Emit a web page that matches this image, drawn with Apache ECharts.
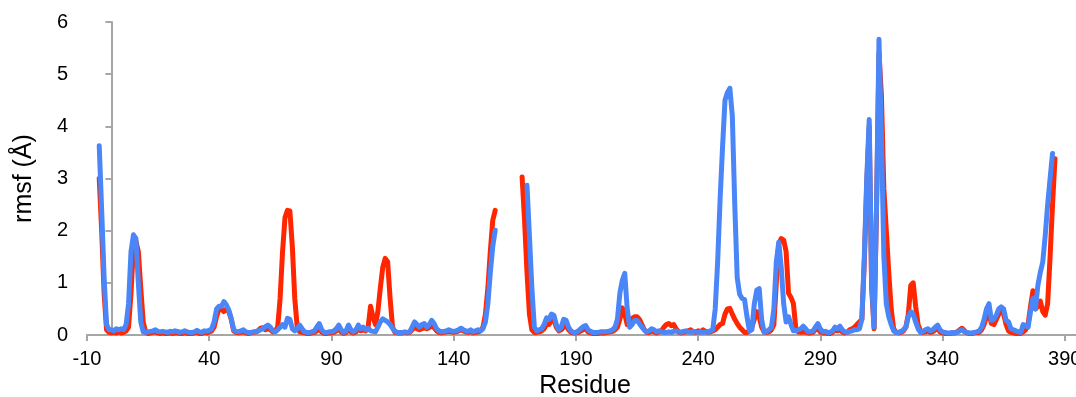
<!DOCTYPE html>
<html>
<head>
<meta charset="utf-8">
<script src="https://cdn.jsdelivr.net/npm/echarts@6/dist/echarts.min.js"></script>
<style>
  html, body { margin: 0; padding: 0; background: #fff; }
  #chart { width: 1076px; height: 397px; }
</style>
</head>
<body>
<div id="chart"></div>
<script>
// residue numbering: first value belongs to residue -5, one value per residue
const firstResidue = -5;

// red trace, residues -5 .. 386 (null = no data)
const redRmsf = [
  3.0, 2.0, 0.8, 0.1, 0.05, 0.04, 0.05, 0.04, 0.06, 0.04,      // -5
  0.05, 0.08, 0.15, 0.8, 1.7, 1.8, 1.6, 0.9, 0.25, 0.05,       // 5
  0.03, 0.04, 0.05, 0.06, 0.04, 0.03, 0.04, 0.03, 0.03, 0.04,  // 15
  0.03, 0.04, 0.04, 0.03, 0.03, 0.05, 0.03, 0.03, 0.03, 0.04,  // 25
  0.05, 0.03, 0.03, 0.05, 0.04, 0.06, 0.08, 0.15, 0.35, 0.5,   // 35
  0.5, 0.45, 0.5, 0.45, 0.3, 0.08, 0.05, 0.04, 0.05, 0.06,     // 45
  0.04, 0.03, 0.04, 0.05, 0.06, 0.08, 0.13, 0.14, 0.1, 0.12,   // 55
  0.1, 0.06, 0.08, 0.15, 0.7, 1.6, 2.25, 2.39, 2.38, 1.7,      // 65
  0.7, 0.15, 0.06, 0.05, 0.04, 0.03, 0.03, 0.04, 0.05, 0.08,   // 75
  0.12, 0.06, 0.03, 0.03, 0.04, 0.04, 0.05, 0.08, 0.12, 0.06,  // 85
  0.03, 0.05, 0.12, 0.06, 0.04, 0.06, 0.12, 0.08, 0.1, 0.08,   // 95
  0.15, 0.55, 0.35, 0.2, 0.45, 0.9, 1.3, 1.47, 1.4, 0.7,       // 105
  0.15, 0.05, 0.04, 0.04, 0.04, 0.05, 0.04, 0.05, 0.1, 0.15,   // 115
  0.12, 0.1, 0.12, 0.14, 0.12, 0.14, 0.18, 0.14, 0.08, 0.05,   // 125
  0.04, 0.05, 0.06, 0.07, 0.06, 0.05, 0.06, 0.08, 0.1, 0.08,   // 135
  0.06, 0.05, 0.07, 0.04, 0.05, 0.06, 0.08, 0.15, 0.4, 0.9,    // 145
  1.6, 2.2, 2.39, null, null, null, null, null, null, null,    // 155
  null, null, null, 3.03, 2.2, 1.2, 0.4, 0.1, 0.05, 0.05,      // 165
  0.06, 0.08, 0.12, 0.2, 0.2, 0.28, 0.3, 0.15, 0.08, 0.1,      // 175
  0.15, 0.2, 0.1, 0.05, 0.04, 0.04, 0.05, 0.08, 0.1, 0.12,     // 185
  0.06, 0.04, 0.03, 0.03, 0.03, 0.04, 0.04, 0.04, 0.05, 0.06,  // 195
  0.07, 0.1, 0.15, 0.3, 0.52, 0.4, 0.2, 0.25, 0.32, 0.35,      // 205
  0.35, 0.3, 0.2, 0.1, 0.05, 0.05, 0.08, 0.06, 0.04, 0.06,     // 215
  0.08, 0.15, 0.2, 0.22, 0.18, 0.2, 0.12, 0.06, 0.04, 0.05,    // 225
  0.06, 0.08, 0.1, 0.06, 0.05, 0.08, 0.06, 0.1, 0.07, 0.05,    // 235
  0.06, 0.08, 0.1, 0.15, 0.2, 0.22, 0.4, 0.5, 0.51, 0.4,       // 245
  0.3, 0.22, 0.15, 0.1, 0.05, 0.05, 0.08, 0.15, 0.3, 0.45,     // 255
  0.35, 0.15, 0.06, 0.05, 0.06, 0.1, 0.2, 1.0, 1.75, 1.85,     // 265
  1.82, 1.6, 0.8, 0.72, 0.6, 0.12, 0.06, 0.05, 0.06, 0.05,     // 275
  0.04, 0.04, 0.05, 0.1, 0.12, 0.06, 0.04, 0.04, 0.03, 0.03,   // 285
  0.05, 0.1, 0.08, 0.1, 0.06, 0.04, 0.05, 0.1, 0.12, 0.15,     // 295
  0.2, 0.25, 0.3, 1.4, 2.9, 4.0, 0.9, 0.12, 2.4, 5.4,          // 305
  4.6, 2.8, 2.0, 1.2, 0.5, 0.12, 0.05, 0.04, 0.05, 0.08,       // 315
  0.15, 0.4, 0.95, 1.0, 0.55, 0.2, 0.08, 0.05, 0.06, 0.08,     // 325
  0.05, 0.06, 0.1, 0.12, 0.06, 0.04, 0.03, 0.03, 0.03, 0.04,   // 335
  0.04, 0.06, 0.1, 0.13, 0.08, 0.04, 0.03, 0.03, 0.04, 0.05,   // 345
  0.05, 0.1, 0.2, 0.35, 0.4, 0.22, 0.2, 0.3, 0.4, 0.45,        // 355
  0.4, 0.2, 0.08, 0.05, 0.04, 0.03, 0.03, 0.03, 0.06, 0.1,     // 365
  0.2, 0.55, 0.85, 0.5, 0.55, 0.65, 0.45, 0.38, 0.6, 1.5,      // 375
  2.5, 3.38                                                    // 385
];

// blue trace, residues -5 .. 386 (null = no data)
const blueRmsf = [
  3.63, 2.4, 1.1, 0.2, 0.1, 0.1, 0.08, 0.12, 0.1, 0.12,        // -5
  0.1, 0.2, 0.6, 1.6, 1.92, 1.85, 1.0, 0.25, 0.06, 0.05,       // 5
  0.06, 0.07, 0.08, 0.1, 0.07, 0.06, 0.07, 0.06, 0.05, 0.07,   // 15
  0.06, 0.08, 0.07, 0.05, 0.06, 0.08, 0.06, 0.05, 0.05, 0.06,  // 25
  0.09, 0.06, 0.05, 0.08, 0.07, 0.09, 0.12, 0.25, 0.5, 0.55,   // 35
  0.55, 0.64, 0.58, 0.48, 0.32, 0.1, 0.07, 0.06, 0.08, 0.1,    // 45
  0.06, 0.05, 0.05, 0.06, 0.07, 0.08, 0.1, 0.12, 0.16, 0.19,   // 55
  0.15, 0.08, 0.06, 0.1, 0.15, 0.2, 0.15, 0.32, 0.3, 0.12,     // 65
  0.08, 0.12, 0.19, 0.12, 0.06, 0.05, 0.05, 0.06, 0.08, 0.15,  // 75
  0.22, 0.1, 0.05, 0.05, 0.06, 0.06, 0.08, 0.12, 0.19, 0.1,    // 85
  0.05, 0.08, 0.19, 0.1, 0.06, 0.1, 0.19, 0.12, 0.15, 0.1,     // 95
  0.13, 0.08, 0.07, 0.06, 0.15, 0.25, 0.31, 0.28, 0.25, 0.2,   // 105
  0.13, 0.07, 0.05, 0.05, 0.05, 0.06, 0.05, 0.06, 0.15, 0.25,  // 115
  0.2, 0.15, 0.2, 0.22, 0.15, 0.2, 0.28, 0.22, 0.12, 0.08,     // 125
  0.06, 0.07, 0.08, 0.1, 0.08, 0.07, 0.08, 0.1, 0.13, 0.1,     // 135
  0.08, 0.07, 0.1, 0.06, 0.08, 0.1, 0.08, 0.12, 0.25, 0.6,     // 145
  1.2, 1.7, 2.01, null, null, null, null, null, null, null,    // 155
  null, null, null, null, null, 2.87, 1.9, 0.9, 0.15, 0.08,    // 165
  0.1, 0.12, 0.2, 0.33, 0.3, 0.4, 0.38, 0.2, 0.1, 0.15,        // 175
  0.3, 0.28, 0.15, 0.08, 0.05, 0.05, 0.08, 0.12, 0.16, 0.18,   // 185
  0.1, 0.07, 0.05, 0.05, 0.05, 0.06, 0.06, 0.06, 0.07, 0.08,   // 195
  0.1, 0.15, 0.3, 0.8, 1.05, 1.18, 0.5, 0.15, 0.2, 0.28,       // 205
  0.28, 0.22, 0.15, 0.1, 0.06, 0.08, 0.12, 0.1, 0.06, 0.08,    // 215
  0.06, 0.05, 0.05, 0.06, 0.05, 0.07, 0.08, 0.06, 0.05, 0.07,  // 225
  0.08, 0.06, 0.05, 0.07, 0.06, 0.05, 0.06, 0.05, 0.06, 0.05,  // 235
  0.08, 0.1, 0.5, 1.4, 2.6, 3.6, 4.5, 4.65, 4.73, 4.2,         // 245
  2.5, 1.1, 0.78, 0.7, 0.68, 0.35, 0.08, 0.1, 0.6, 0.86,       // 255
  0.89, 0.3, 0.05, 0.07, 0.1, 0.15, 0.5, 1.4, 1.78, 1.3,       // 265
  0.6, 0.25, 0.35, 0.2, 0.08, 0.08, 0.1, 0.12, 0.17, 0.12,     // 275
  0.06, 0.06, 0.08, 0.15, 0.22, 0.12, 0.06, 0.07, 0.05, 0.05,  // 285
  0.08, 0.15, 0.12, 0.17, 0.1, 0.06, 0.05, 0.07, 0.08, 0.1,    // 295
  0.1, 0.12, 0.3, 1.5, 3.0, 4.13, 1.0, 0.15, 2.5, 5.67,        // 305
  3.8, 1.5, 0.6, 0.35, 0.2, 0.08, 0.05, 0.05, 0.07, 0.1,       // 315
  0.15, 0.35, 0.45, 0.4, 0.25, 0.12, 0.05, 0.07, 0.1, 0.12,    // 325
  0.08, 0.1, 0.15, 0.19, 0.1, 0.06, 0.05, 0.04, 0.04, 0.05,    // 335
  0.04, 0.05, 0.08, 0.1, 0.06, 0.05, 0.04, 0.04, 0.05, 0.06,   // 345
  0.08, 0.15, 0.3, 0.5, 0.6, 0.28, 0.3, 0.38, 0.5, 0.54,       // 355
  0.5, 0.28, 0.25, 0.12, 0.1, 0.08, 0.06, 0.05, 0.2, 0.18,     // 365
  0.15, 0.45, 0.7, 0.5, 0.95, 1.2, 1.4, 1.9, 2.5, 3.0,         // 375
  3.48, null                                                   // 385
];

const xTicks = { min: -10, max: 394.6, interval: 50 };
const yTicks = { min: 0, max: 6, interval: 1 };

function toPairs(values) {
  return values.map((v, i) => [firstResidue + i, v]);
}

const axisGray = '#a6a6a6';
const font = '"Liberation Sans", Arial, Helvetica, sans-serif';

var myChart = echarts.init(document.getElementById('chart'), null, { renderer: 'canvas' });
myChart.setOption({
  animation: false,
  backgroundColor: '#fff',
  grid: { left: 87, right: 0, top: 22, bottom: 62, containLabel: false, outerBoundsMode: 'none' },
  xAxis: {
    type: 'value',
    min: xTicks.min,
    max: xTicks.max,
    interval: xTicks.interval,
    name: 'Residue',
    nameLocation: 'middle',
    nameGap: 36,
    nameTextStyle: { fontFamily: font, fontSize: 25, color: '#000', padding: [0, 0, 0, 7] },
    axisLine: { show: true, onZero: false, lineStyle: { color: axisGray, width: 2 } },
    axisTick: { show: true, length: 6, lineStyle: { color: axisGray, width: 2 } },
    axisLabel: { fontFamily: font, fontSize: 20, color: '#000', margin: 14, showMaxLabel: false },
    splitLine: { show: false }
  },
  yAxis: {
    type: 'value',
    min: yTicks.min,
    max: yTicks.max,
    interval: yTicks.interval,
    name: 'rmsf (Å)',
    nameLocation: 'middle',
    nameGap: 50,
    nameTextStyle: { fontFamily: font, fontSize: 25, color: '#000' },
    axisLine: { show: true, lineStyle: { color: axisGray, width: 2 } },
    axisTick: { show: true, length: 6, lineStyle: { color: axisGray, width: 2 } },
    axisLabel: { fontFamily: font, fontSize: 20, color: '#000', margin: 19 },
    splitLine: { show: false }
  },
  series: [
    {
      name: 'red',
      type: 'line',
      data: toPairs(redRmsf),
      showSymbol: false,
      connectNulls: false,
      lineStyle: { color: '#ff2600', width: 5, join: 'round', cap: 'round' },
      z: 2
    },
    {
      name: 'blue',
      type: 'line',
      data: toPairs(blueRmsf),
      showSymbol: false,
      connectNulls: false,
      lineStyle: { color: '#4a86f8', width: 5, join: 'round', cap: 'round' },
      z: 3
    }
  ]
});
</script>
</body>
</html>
